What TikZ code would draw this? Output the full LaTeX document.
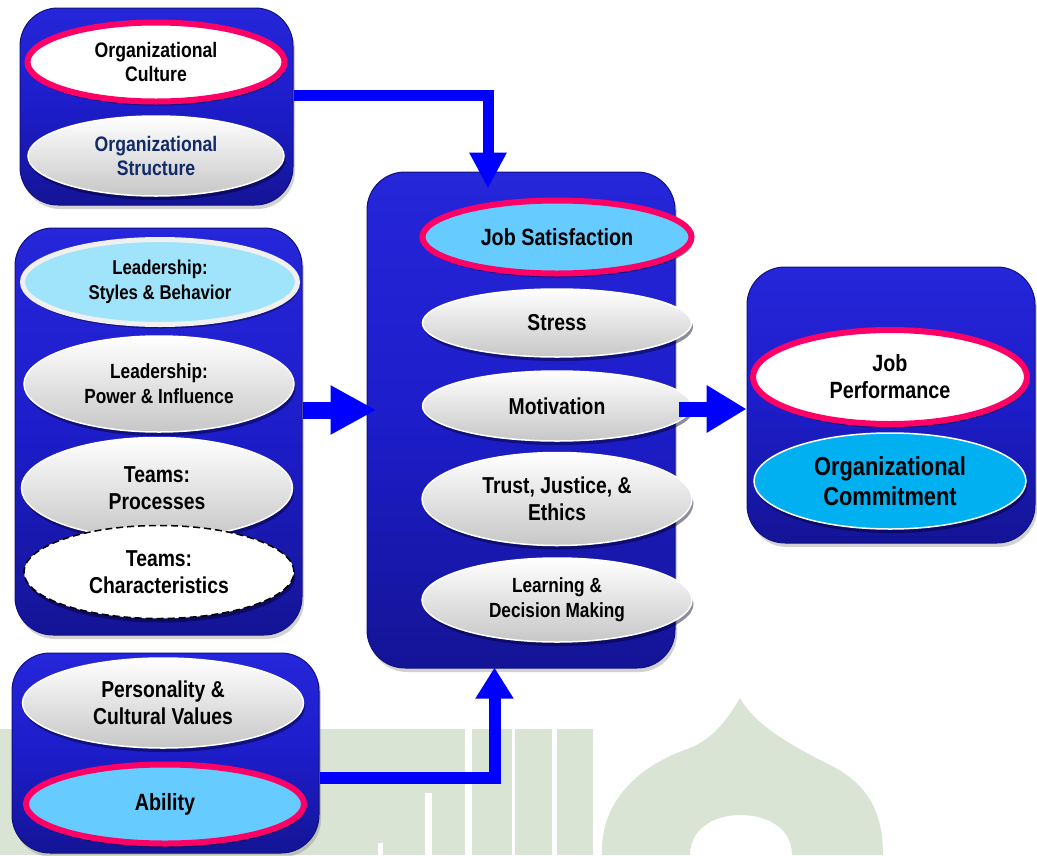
\documentclass[tikz,border=0pt]{standalone}
\usepackage{fontspec}
\setmainfont{Liberation Sans}[FakeStretch=0.84]
\usetikzlibrary{shapes.geometric,arrows.meta,shadows,calc}
\definecolor{boxtop}{RGB}{38,38,218}
\definecolor{boxmid}{RGB}{29,29,202}
\definecolor{boxbot}{RGB}{20,20,150}
\definecolor{boxedge}{RGB}{16,16,130}
\definecolor{pinkc}{RGB}{255,0,102}
\definecolor{cyanc}{RGB}{102,204,255}
\definecolor{lcyan}{RGB}{160,228,251}
\definecolor{commc}{RGB}{0,176,240}
\definecolor{navyt}{RGB}{18,42,104}
\definecolor{arrblue}{RGB}{0,0,255}
\definecolor{wm}{RGB}{217,228,213}
\newcommand{\fsz}[2]{\fontsize{#1}{#2}\selectfont\bfseries}
\begin{document}
\begin{tikzpicture}[x=1pt,y=-1pt,
  panel/.style={rectangle, rounded corners=38pt, draw=boxedge, line width=1pt,
    top color=boxtop, bottom color=boxbot, middle color=boxmid,
    drop shadow={shadow xshift=2pt, shadow yshift=-4pt, opacity=0.35}},
  elbase/.style={ellipse, inner sep=0pt, align=center,
    drop shadow={shadow xshift=1.5pt, shadow yshift=-4pt, fill=black!85!blue, opacity=0.45}},
  greyel/.style={elbase, draw=white, line width=1.5pt, top color=white, bottom color=black!22},
  pinkel/.style={elbase, draw=pinkc, line width=6pt},
  arrthin/.style={draw=arrblue, line width=11pt, -{Triangle[width=35pt,length=36pt]}},
  arrfat/.style={draw=arrblue, line width=17pt, -{Triangle[width=46pt,length=46pt]}},
]
% background and bounding box
\fill[white] (0,0) rectangle (1037,855);
% watermark
\fill[wm] (0,729) rectangle (593,855);
\fill[white] (425,793) rectangle (432,855);
\fill[white] (465,729) rectangle (472,855);
\fill[white] (512,729) rectangle (515,855);
\fill[white] (552,729) rectangle (557,855);
\fill[white] (378,843) rectangle (383,855);
\fill[wm] (602,855) .. controls (600,800) and (640,765) .. (690,748)
  .. controls (715,738) and (730,715) .. (740,698)
  .. controls (755,725) and (790,745) .. (830,765)
  .. controls (870,785) and (883,815) .. (883,855) -- (792,855)
  .. controls (792,830) and (770,815) .. (741,815)
  .. controls (712,815) and (690,830) .. (690,855) -- cycle;

% panels
\node[panel, minimum width=273pt, minimum height=197pt] (boxA) at (156.5,106.5) {};
\node[panel, minimum width=287pt, minimum height=407pt] (boxB) at (158.5,431.5) {};
\node[panel, minimum width=307pt, minimum height=200pt] (boxC) at (165.5,753) {};
\node[panel, minimum width=308pt, minimum height=496pt] (boxD) at (521,420) {};
\node[panel, minimum width=288pt, minimum height=276pt] (boxE) at (891,405) {};

% box A
\node[pinkel, fill=white, minimum width=257pt, minimum height=79pt, font=\fsz{21}{24}] (cult) at (156,62) {Organizational\\Culture};
\node[greyel, minimum width=256pt, minimum height=80pt, font=\fsz{21}{24}, text=navyt] (struct) at (156,156) {Organizational\\Structure};

% box B
\node[elbase, draw=black!6, line width=5pt, fill=lcyan, minimum width=275pt, minimum height=85pt, font=\fsz{20}{25}] (lead1) at (160,282) {Leadership:\\Styles \& Behavior};
\node[greyel, minimum width=270pt, minimum height=96pt, font=\fsz{20.5}{25}] (lead2) at (159,384) {Leadership:\\Power \& Influence};
\node[greyel, minimum width=271pt, minimum height=101pt, font=\fsz{23}{27}] (teamp) at (157,488) {Teams:\\Processes};
\node[elbase, draw=black, line width=1.5pt, dash pattern=on 7pt off 4pt, fill=white, minimum width=270pt, minimum height=93pt, font=\fsz{23}{27}] (teamc) at (159,572) {Teams:\\Characteristics};

% box C
\node[greyel, minimum width=281pt, minimum height=90pt, font=\fsz{23}{27}] (pers) at (163,703) {Personality \&\\Cultural Values};
\node[pinkel, fill=cyanc, minimum width=278pt, minimum height=79pt, font=\fsz{23.5}{27}] (abil) at (165,804) {Ability};

% box D
\node[pinkel, fill=cyanc, minimum width=269pt, minimum height=73pt, font=\fsz{23.5}{27}] (jobsat) at (557,237) {Job Satisfaction};
\node[greyel, minimum width=269pt, minimum height=68pt, font=\fsz{23}{27}] (stress) at (557,323) {Stress};
\node[greyel, minimum width=269pt, minimum height=70pt, font=\fsz{23}{27}] (mot) at (557,406) {Motivation};
\node[greyel, minimum width=270pt, minimum height=93pt, font=\fsz{23}{27}] (trust) at (557,499) {Trust, Justice, \&\\Ethics};
\node[greyel, minimum width=270pt, minimum height=84pt, font=\fsz{20.5}{25}] (learn) at (557,600) {Learning \&\\Decision Making};

% box E
\node[pinkel, fill=white, minimum width=274pt, minimum height=94pt, font=\fsz{23.5}{27}] (jobperf) at (890,377) {Job\\Performance};
\node[elbase, draw=white, line width=1.5pt, fill=commc, minimum width=272pt, minimum height=96pt, font=\fsz{26}{30}] (comm) at (890,481) {Organizational\\Commitment};

% connectors
\draw[arrthin, shorten >=-17pt] ($(boxA.east)+(0,-11.5)$) -| ($(boxD.north)+(-33,0)$);
\draw[arrfat, shorten >=-10pt] ($(boxB.east |- mot.center)+(0,4)$) -- ($(boxD.west |- mot.center)+(0,4)$);
\draw[draw=arrblue, line width=15pt, -{Triangle[width=45pt,length=40pt]}] ($(boxD.east |- mot.center)+(3,3)$) -- ($(boxE.west |- mot.center)+(0,3)$);
\draw[draw=arrblue, line width=12pt, -{Triangle[width=36pt,length=31pt]}, shorten >=-1pt] ($(boxC.east)+(0,25)$) -| ($(boxD.south)+(-26.5,0)$);
\end{tikzpicture}
\end{document}
